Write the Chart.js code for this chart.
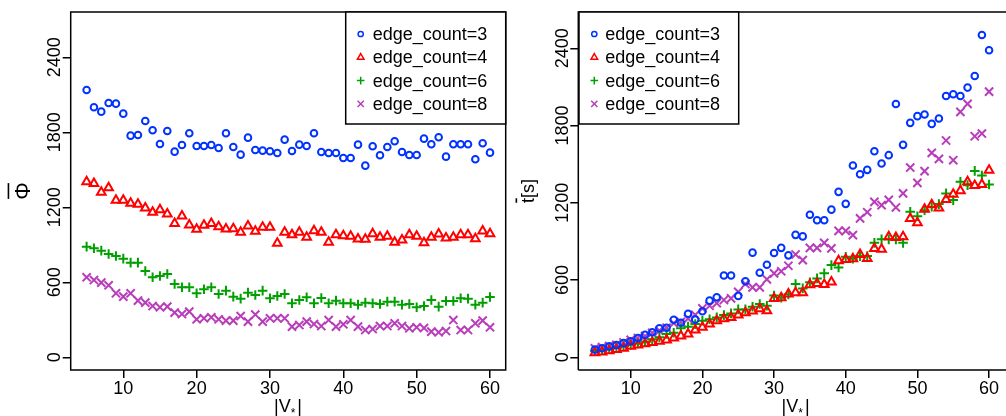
<!DOCTYPE html>
<html>
<head>
<meta charset="utf-8">
<script src="https://cdn.jsdelivr.net/npm/chart.js@4.4.0/dist/chart.umd.min.js"></script>
<style>
  html, body { margin: 0; padding: 0; background: #fff; }
  #wrap { position: relative; width: 1006px; height: 416px; overflow: hidden; }
  .panel { position: absolute; top: 0; height: 416px; }
  #left { left: 0; width: 540px; }
  #right { left: 503px; width: 503px; }
</style>
</head>
<body>
<div id="wrap">
  <div class="panel" id="left"><canvas id="phiChart" width="540" height="416"></canvas></div>
  <div class="panel" id="right"><canvas id="timeChart" width="503" height="416"></canvas></div>
</div>
<script>
// ---- data ----
const vertexCounts = [5, 6, 7, 8, 9, 10, 11, 12, 13, 14, 15, 16, 17, 18, 19, 20, 21, 22, 23, 24, 25, 26, 27, 28, 29, 30,
  31, 32, 33, 34, 35, 36, 37, 38, 39, 40, 41, 42, 43, 44, 45, 46, 47, 48, 49, 50, 51, 52, 53, 54, 55, 56, 57, 58, 59, 60];

const seriesLabels = ['edge_count=3', 'edge_count=4', 'edge_count=6', 'edge_count=8'];
const xTicks = [10, 20, 30, 40, 50, 60];
const yTicks = [0, 600, 1200, 1800, 2400];

// left panel: mean Phi
const phiEdge3 = [2138, 2000, 1965, 2034, 2029, 1949, 1773, 1778, 1890, 1816, 1706, 1810, 1645, 1698, 1792, 1690, 1690, 1698, 1674, 1792,
  1682, 1621, 1757, 1658, 1653, 1648, 1634, 1741, 1650, 1701, 1690, 1792, 1642, 1634, 1634, 1594, 1594, 1701, 1533, 1688,
  1616, 1682, 1728, 1642, 1618, 1618, 1749, 1704, 1760, 1605, 1704, 1704, 1704, 1584, 1712, 1637];
const phiEdge4 = [1405, 1390, 1320, 1357, 1256, 1256, 1232, 1225, 1195, 1160, 1180, 1146, 1071, 1130, 1058, 1024, 1056, 1071, 1045, 1026,
  1029, 1000, 1050, 1008, 1040, 1040, 912, 1000, 981, 1000, 960, 1013, 1000, 920, 981, 973, 968, 946, 944, 989,
  960, 968, 920, 938, 981, 968, 917, 960, 986, 954, 960, 981, 981, 949, 1010, 989];
const phiEdge6 = [885, 872, 853, 826, 810, 789, 757, 757, 690, 640, 650, 666, 586, 560, 560, 512, 544, 560, 506, 533,
  485, 469, 517, 498, 533, 472, 490, 506, 432, 458, 480, 432, 474, 432, 453, 432, 432, 421, 437, 432,
  426, 445, 445, 421, 426, 400, 410, 458, 405, 450, 450, 472, 469, 421, 437, 482];
const phiEdge8 = [640, 618, 597, 576, 512, 485, 512, 453, 437, 410, 400, 405, 357, 346, 365, 304, 312, 320, 304, 293,
  293, 330, 285, 342, 285, 312, 312, 312, 245, 258, 285, 266, 250, 298, 245, 264, 298, 245, 218, 226,
  250, 250, 272, 250, 232, 240, 234, 205, 200, 210, 298, 218, 218, 272, 293, 240];

// right panel: mean time in seconds
const timeEdge3 = [60, 70, 85, 95, 110, 125, 150, 175, 195, 225, 230, 292, 268, 338, 293, 358, 440, 467, 635, 635,
  477, 591, 813, 657, 719, 810, 850, 792, 951, 939, 1107, 1065, 1065, 1147, 1285, 1192, 1490, 1422, 1456, 1601,
  1505, 1570, 1968, 1650, 1821, 1873, 1886, 1813, 1855, 2030, 2043, 2030, 2095, 2185, 2503, 2385];
const timeEdge4 = [35, 42, 50, 60, 70, 85, 95, 105, 115, 125, 135, 150, 165, 181, 212, 233, 258, 284, 300, 310,
  328, 346, 360, 378, 362, 456, 463, 491, 501, 501, 563, 574, 566, 584, 750, 760, 765, 799, 768, 846,
  840, 936, 931, 936, 1079, 1045, 1150, 1185, 1160, 1225, 1267, 1293, 1363, 1335, 1342, 1453];
const timeEdge6 = [50, 58, 65, 75, 85, 98, 108, 120, 140, 155, 181, 191, 225, 238, 258, 284, 295, 310, 328, 341,
  372, 372, 393, 414, 400, 480, 462, 489, 569, 535, 582, 613, 652, 716, 698, 781, 765, 786, 786, 889,
  916, 916, 916, 889, 1130, 1096, 1143, 1169, 1190, 1273, 1221, 1363, 1337, 1448, 1412, 1342];
const timeEdge8 = [70, 80, 88, 98, 115, 135, 150, 165, 190, 207, 230, 265, 276, 300, 330, 380, 400, 420, 445, 458,
  509, 569, 543, 543, 605, 652, 668, 711, 799, 755, 850, 850, 889, 846, 982, 982, 949, 1079, 1127, 1207,
  1182, 1223, 1164, 1273, 1474, 1355, 1446, 1588, 1541, 1684, 1531, 1906, 1968, 1717, 1738, 2064];

// ---- styles ----
const FONT = '"Liberation Sans", Arial, Helvetica, sans-serif';
const markers = [
  { color: '#0033ff', style: 'circle', radius: 3.3, legendRadius: 2.6 },
  { color: '#ff0000', style: 'triangle', radius: 5, legendRadius: 3.8 },
  { color: '#00a000', style: 'cross', radius: 4.8, legendRadius: 3.8 },
  { color: '#b83dba', style: 'crossRot', radius: 5.8, legendRadius: 4.4 }
];

function makeDatasets(seriesList) {
  return seriesList.map((values, i) => ({
    label: seriesLabels[i],
    data: vertexCounts.map((v, j) => ({ x: v, y: values[j] })),
    showLine: false,
    pointStyle: markers[i].style,
    pointRadius: markers[i].radius,
    pointHoverRadius: markers[i].radius,
    pointBorderColor: markers[i].color,
    pointBackgroundColor: 'rgba(0,0,0,0)',
    pointBorderWidth: 2
  }));
}

// rotated text with a bar over its first letter (mean symbol)
function drawBarTitle(ctx, first, rest, x, y, size) {
  ctx.save();
  ctx.translate(x, y);
  ctx.rotate(-Math.PI / 2);
  ctx.font = size + 'px ' + FONT;
  const w1 = ctx.measureText(first).width;
  const w2 = rest ? ctx.measureText(rest).width : 0;
  const x0 = -(w1 + w2) / 2;
  ctx.textAlign = 'left';
  ctx.fillText(first, x0, 0);
  if (rest) ctx.fillText(rest, x0 + w1, 0);
  ctx.lineWidth = 1.6;
  ctx.beginPath();
  const barY = -size * 0.98;
  ctx.moveTo(x0 + w1 * 0.05, barY);
  ctx.lineTo(x0 + w1 * 0.95, barY);
  ctx.stroke();
  ctx.restore();
}

// draws the R style frame, tick labels, titles and legend
const rAxesPlugin = {
  id: 'rAxes',
  afterDraw(chart, args, opts) {
    const ctx = chart.ctx;
    const area = chart.chartArea;
    const xs = chart.scales.x;
    const ys = chart.scales.y;
    ctx.save();
    ctx.strokeStyle = '#000';
    ctx.lineWidth = 1.5;
    ctx.beginPath();
    if (opts.fullBox) {
      ctx.rect(area.left, area.top, area.right - area.left, area.bottom - area.top);
    } else {
      ctx.moveTo(area.left, area.bottom);
      ctx.lineTo(area.left, area.top);
      ctx.lineTo(chart.width + 2, area.top);
      ctx.moveTo(area.left, area.bottom);
      ctx.lineTo(chart.width + 2, area.bottom);
    }
    ctx.stroke();

    ctx.fillStyle = '#000';
    ctx.font = '18px ' + FONT;

    // x tick labels
    ctx.textAlign = 'center';
    ctx.textBaseline = 'alphabetic';
    xTicks.forEach(v => ctx.fillText(String(v), xs.getPixelForValue(v), 394));

    // y tick labels, rotated
    yTicks.forEach(v => {
      ctx.save();
      ctx.translate(opts.yLabelX, ys.getPixelForValue(v));
      ctx.rotate(-Math.PI / 2);
      ctx.fillText(String(v), 0, 0);
      ctx.restore();
    });

    // y title
    drawBarTitle(ctx, opts.yTitle[0], opts.yTitle[1], opts.yTitleX, (area.top + area.bottom) / 2, opts.yTitleSize);

    // x title |V*|
    const cx = opts.xTitleCenter;
    ctx.textAlign = 'left';
    ctx.font = '18px ' + FONT;
    const w1 = ctx.measureText('|V').width;
    const w3 = ctx.measureText('|').width;
    ctx.font = '12px ' + FONT;
    const w2 = ctx.measureText('*').width;
    const x0 = cx - (w1 + w2 + w3 + 2) / 2;
    ctx.font = '18px ' + FONT;
    ctx.fillText('|V', x0, 412);
    ctx.font = '12px ' + FONT;
    ctx.fillText('*', x0 + w1, 417);
    ctx.font = '18px ' + FONT;
    ctx.fillText('|', x0 + w1 + w2 + 2, 412);

    // legend
    const lg = opts.legend;
    ctx.fillStyle = '#fff';
    ctx.fillRect(lg.left, lg.top, lg.width, lg.height);
    ctx.strokeStyle = '#000';
    ctx.lineWidth = 1.5;
    ctx.strokeRect(lg.left, lg.top, lg.width, lg.height);
    chart.data.datasets.forEach((ds, i) => {
      const rowY = lg.firstRow + i * lg.rowGap;
      ctx.save();
      ctx.strokeStyle = markers[i].color;
      ctx.fillStyle = 'rgba(0,0,0,0)';
      Chart.helpers.drawPoint(ctx, {
        pointStyle: markers[i].style,
        radius: markers[i].legendRadius,
        rotation: 0,
        borderWidth: 1.3
      }, lg.symbolX, rowY);
      ctx.restore();
      ctx.fillStyle = '#000';
      ctx.font = '18px ' + FONT;
      ctx.textAlign = 'left';
      ctx.fillText(ds.label, lg.textX, rowY + 6);
    });
    ctx.restore();
  }
};

function makeChart(canvasId, seriesList, cfg) {
  return new Chart(document.getElementById(canvasId), {
    type: 'scatter',
    data: { datasets: makeDatasets(seriesList) },
    options: {
      responsive: false,
      animation: false,
      events: [],
      layout: { padding: { left: 0, top: 12, right: cfg.padRight, bottom: 0 } },
      plugins: {
        legend: { display: false },
        tooltip: { enabled: false },
        rAxes: cfg.axes
      },
      scales: {
        x: {
          type: 'linear',
          min: cfg.xMin,
          max: cfg.xMax,
          afterBuildTicks: axis => { axis.ticks = xTicks.map(v => ({ value: v })); },
          afterFit: axis => { axis.height = 46; },
          ticks: { display: false },
          border: { display: false },
          grid: { drawOnChartArea: false, drawTicks: true, tickLength: 8, color: '#000', lineWidth: 1.5 }
        },
        y: {
          type: 'linear',
          min: cfg.yMin,
          max: cfg.yMax,
          afterBuildTicks: axis => { axis.ticks = yTicks.map(v => ({ value: v })); },
          afterFit: axis => { axis.width = cfg.yWidth; },
          ticks: { display: false },
          border: { display: false },
          grid: { drawOnChartArea: false, drawTicks: true, tickLength: 8, color: '#000', lineWidth: 1.5 }
        }
      }
    },
    plugins: [rAxesPlugin]
  });
}

makeChart('phiChart', [phiEdge3, phiEdge4, phiEdge6, phiEdge8], {
  padRight: 34.3, yWidth: 70.7,
  xMin: 2.83, xMax: 62.14, yMin: -101.6, yMax: 2762,
  axes: {
    fullBox: true, yLabelX: 60.3, yTitleX: 30, yTitle: ['\u03A6', ''], yTitleSize: 22, xTitleCenter: 288,
    legend: { left: 345.7, top: 12, width: 160, height: 112, firstRow: 34, rowGap: 23.3, symbolX: 360.7, textX: 372.7 }
  }
});

makeChart('timeChart', [timeEdge3, timeEdge4, timeEdge6, timeEdge8], {
  padRight: 0, yWidth: 75.3,
  xMin: 2.685, xMax: 61.274, yMin: -98.6, yMax: 2682,
  axes: {
    fullBox: false, yLabelX: 65.3, yTitleX: 31, yTitle: ['t', '[s]'], yTitleSize: 18, xTitleCenter: 292.6,
    legend: { left: 76, top: 12, width: 159.7, height: 112, firstRow: 34, rowGap: 23.3, symbolX: 91.3, textX: 102.3 }
  }
});
</script>
</body>
</html>
